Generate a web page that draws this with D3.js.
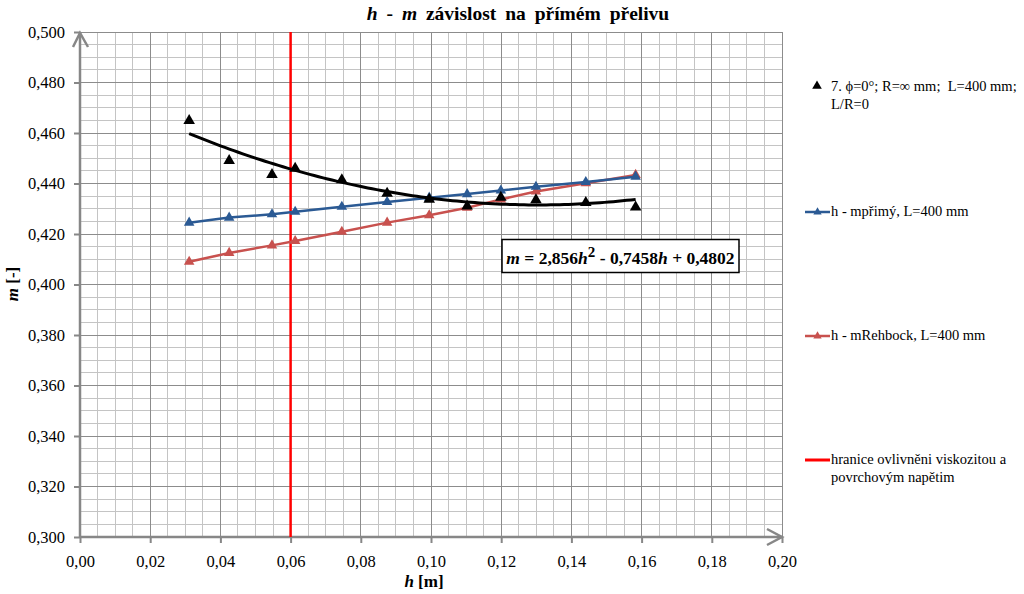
<!DOCTYPE html>
<html><head><meta charset="utf-8">
<script src="https://cdn.jsdelivr.net/npm/d3@7"></script>
<style>body{margin:0;background:#fff}svg{display:block}</style>
</head><body>
<svg id="c" width="1024" height="594"></svg>
<script>
// ---- data ----
const hValues = [0.0311,0.0425,0.0547,0.0613,0.0746,0.0875,0.0995,0.1103,0.1199,0.1299,0.1441,0.1583];
const mMeasured = [0.4649,0.4490,0.4435,0.4460,0.4414,0.4361,0.4337,0.4310,0.4345,0.4335,0.4324,0.4306];
const mPrimy = [0.4245,0.4265,0.4278,0.4288,0.4308,0.4327,0.4344,0.4358,0.4372,0.4387,0.4406,0.4427];
const mRehbock = [0.4090,0.4125,0.4155,0.4172,0.4209,0.4245,0.4274,0.4304,0.4337,0.4368,0.4401,0.4434];
const trendCoef = [2.856,-0.7458,0.4802]; // m = a h^2 + b h + c
const boundaryH = 0.06;
const xTickLabels = ["0,00","0,02","0,04","0,06","0,08","0,10","0,12","0,14","0,16","0,18","0,20"];
const yTickLabels = ["0,300","0,320","0,340","0,360","0,380","0,400","0,420","0,440","0,460","0,480","0,500"];
const legendLabels = [
  ["7. \u03d5=0°; R=\u221e mm;  L=400 mm;","L/R=0"],
  ["h - mpřimý, L=400 mm"],
  ["h - mRehbock, L=400 mm"],
  ["hranice ovlivněni viskozitou a","povrchovým napětim"]
];

const svg = d3.select("#c");
const font = '"Liberation Serif", "Times New Roman", Times, serif';
const x = d3.scaleLinear().domain([0,0.2]).range([80,782]);
const y = d3.scaleLinear().domain([0.3,0.5]).range([537,32]);
const blue = "#2b5a94", red = "#c8514e", axisGray = "#878787";

// grid
const g = svg.append("g");
g.selectAll(".vx").data(x.ticks(50)).join("line")
  .attr("x1",d=>x(d)).attr("x2",d=>x(d)).attr("y1",y(0.3)).attr("y2",y(0.5))
  .attr("stroke","#c4c4c4").attr("stroke-width",1).attr("shape-rendering","crispEdges");
g.selectAll(".hy").data(y.ticks(50)).join("line")
  .attr("y1",d=>y(d)).attr("y2",d=>y(d)).attr("x1",x(0)).attr("x2",x(0.2))
  .attr("stroke","#c4c4c4").attr("stroke-width",1).attr("shape-rendering","crispEdges");
g.selectAll(".vX").data(x.ticks(10)).join("line")
  .attr("x1",d=>x(d)).attr("x2",d=>x(d)).attr("y1",y(0.3)).attr("y2",y(0.5))
  .attr("stroke","#8c8c8c").attr("stroke-width",1).attr("shape-rendering","crispEdges");
g.selectAll(".hY").data(y.ticks(10)).join("line")
  .attr("y1",d=>y(d)).attr("y2",d=>y(d)).attr("x1",x(0)).attr("x2",x(0.2))
  .attr("stroke","#8c8c8c").attr("stroke-width",1).attr("shape-rendering","crispEdges");

// axes
const xAxis = d3.axisBottom(x).tickValues(x.ticks(10)).tickSize(6).tickFormat((d,i)=>xTickLabels[i]);
const yAxis = d3.axisLeft(y).tickValues(y.ticks(10)).tickSize(6).tickFormat((d,i)=>yTickLabels[i]);
const ax = svg.append("g").attr("transform",`translate(0,${y(0.3)})`).call(xAxis);
const ay = svg.append("g").attr("transform",`translate(${x(0)},0)`).call(yAxis);
[ax,ay].forEach(a=>{
  a.attr("font-family",null).attr("font-size",null);
  a.select(".domain").remove();
  a.selectAll(".tick line").attr("stroke",axisGray).attr("stroke-width",2);
  a.selectAll(".tick text").style("font-family",font).style("font-size","16.5px").attr("fill","#000");
});
ax.selectAll(".tick text").attr("dy","1.25em");
ay.selectAll(".tick text").attr("x",-15);
// axis lines with arrows
svg.append("line").attr("x1",x(0)).attr("x2",x(0.2)).attr("y1",y(0.3)).attr("y2",y(0.3))
  .attr("stroke",axisGray).attr("stroke-width",2.5);
svg.append("line").attr("x1",x(0)).attr("x2",x(0)).attr("y1",y(0.3)).attr("y2",y(0.5))
  .attr("stroke",axisGray).attr("stroke-width",2.5);
svg.append("path").attr("d",`M${x(0)-7},${y(0.5)+15}L${x(0)},${y(0.5)+1}L${x(0)+8},${y(0.5)+15}`)
  .attr("fill","none").attr("stroke",axisGray).attr("stroke-width",2.5);
svg.append("path").attr("d",`M${x(0.2)-15},${y(0.3)-8}L${x(0.2)},${y(0.3)}L${x(0.2)-15},${y(0.3)+8}`)
  .attr("fill","none").attr("stroke",axisGray).attr("stroke-width",2.5);

// boundary line
svg.append("line").attr("x1",x(boundaryH)).attr("x2",x(boundaryH)).attr("y1",y(0.3)).attr("y2",y(0.5))
  .attr("stroke","#ff0000").attr("stroke-width",2.5);

const tri = (s)=>d3.symbol(d3.symbolTriangle, s)();
const line = d3.line().x(d=>x(d[0])).y(d=>y(d[1]));

// series lines
function series(vals,color){
  const pts = hValues.map((h,i)=>[h,vals[i]]);
  svg.append("path").attr("d",line(pts)).attr("fill","none").attr("stroke",color).attr("stroke-width",2.5);
  svg.append("g").selectAll("path").data(pts).join("path")
    .attr("d",tri(48)).attr("transform",d=>`translate(${x(d[0])},${y(d[1])})`).attr("fill",color);
}
series(mRehbock,red);
series(mPrimy,blue);

// measured points
const meas = hValues.map((h,i)=>[h,mMeasured[i]]);
svg.append("g").selectAll("path").data(meas).join("path")
  .attr("d",tri(58)).attr("transform",d=>`translate(${x(d[0])},${y(d[1])})`).attr("fill","#000");

// trendline
const h0 = d3.min(hValues), h1 = d3.max(hValues);
const trendPts = d3.range(0,101).map(i=>{const h=h0+(h1-h0)*i/100;return [h,trendCoef[0]*h*h+trendCoef[1]*h+trendCoef[2]];});
svg.append("path").attr("d",line(trendPts)).attr("fill","none").attr("stroke","#000").attr("stroke-width",3);

// equation box
svg.append("rect").attr("x",502).attr("y",239.5).attr("width",237).attr("height",33)
  .attr("fill","#fff").attr("stroke","#000").attr("stroke-width",1.5);
const eq = svg.append("text").attr("x",620.5).attr("y",264).attr("text-anchor","middle")
  .style("font-family",font).style("font-size","17.5px").style("font-weight","bold");
eq.append("tspan").style("font-style","italic").text("m");
eq.append("tspan").text(" = 2,856");
eq.append("tspan").style("font-style","italic").text("h");
eq.append("tspan").attr("dy",-7).style("font-size","15px").text("2");
eq.append("tspan").attr("dy",7).text(" - 0,7458");
eq.append("tspan").style("font-style","italic").text("h");
eq.append("tspan").text(" + 0,4802");

// title
const t = svg.append("text").attr("x",518).attr("y",20).attr("text-anchor","middle")
  .style("font-family",font).style("font-size","19.5px").style("font-weight","bold").style("word-spacing","4px");
t.append("tspan").style("font-style","italic").text("h");
t.append("tspan").text(" - ");
t.append("tspan").style("font-style","italic").text("m");
t.append("tspan").text(" závislost na přímém přelivu");

// axis titles
const xt = svg.append("text").attr("x",424).attr("y",587).attr("text-anchor","middle")
  .style("font-family",font).style("font-size","17px").style("font-weight","bold");
xt.append("tspan").style("font-style","italic").text("h");
xt.append("tspan").text(" [m]");
const yt = svg.append("text").attr("transform","translate(18,284) rotate(-90)").attr("text-anchor","middle")
  .style("font-family",font).style("font-size","17px").style("font-weight","bold");
yt.append("tspan").style("font-style","italic").text("m");
yt.append("tspan").text(" [-]");

// legend
const lg = svg.append("g").style("font-family",font).style("font-size","14.5px");
const legY = [91,216,340,464];
lg.append("path").attr("d",tri(40)).attr("transform",`translate(817,${legY[0]-5})`).attr("fill","#000");
[[blue,1],[red,2]].forEach(([c,i])=>{
  lg.append("line").attr("x1",805).attr("x2",830).attr("y1",legY[i]-4).attr("y2",legY[i]-4).attr("stroke",c).attr("stroke-width",2.5);
  lg.append("path").attr("d",tri(30)).attr("transform",`translate(817.5,${legY[i]-4})`).attr("fill",c);
});
lg.append("line").attr("x1",805).attr("x2",830).attr("y1",legY[3]-4).attr("y2",legY[3]-4).attr("stroke","#ff0000").attr("stroke-width",3);
legendLabels.forEach((lines,i)=>{
  lines.forEach((s,j)=>{
    lg.append("text").attr("x",831).attr("y",legY[i]+j*18).style("white-space","pre").text(s);
  });
});
</script>
</body></html>
